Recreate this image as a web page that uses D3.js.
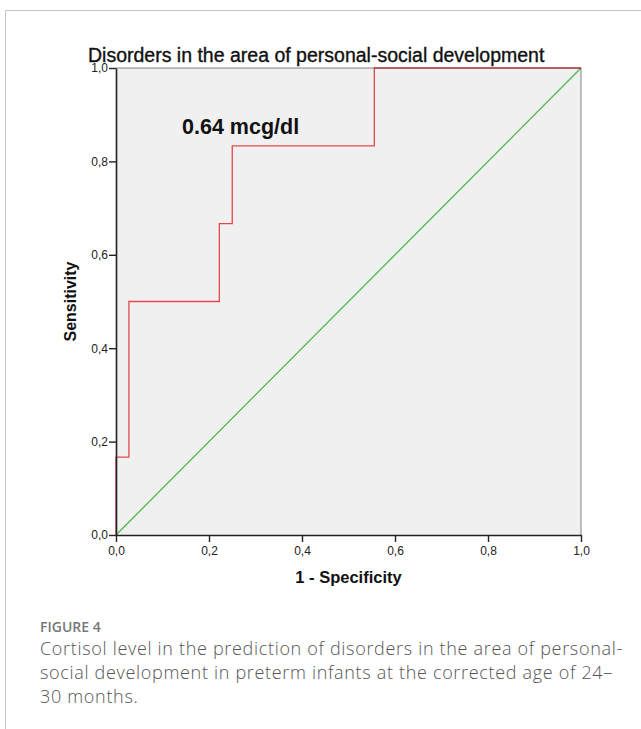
<!DOCTYPE html>
<html>
<head>
<meta charset="utf-8">
<script src="https://cdn.jsdelivr.net/npm/d3@7"></script>
<style>
  html, body { margin: 0; padding: 0; background: #fff; }
  svg { display: block; }
</style>
</head>
<body>
<svg id="fig" width="641" height="729"></svg>
<script>
// ROC curve points (1 - specificity, sensitivity)
const fpr = [0, 0, 1/36, 1/36, 8/36, 8/36, 9/36, 9/36, 20/36, 20/36, 1];
const tpr = [0, 1/6, 1/6, 3/6, 3/6, 4/6, 4/6, 5/6, 5/6, 1, 1];
// reference (chance) line
const refX = [0, 1];
const refY = [0, 1];
const tickValues = [0, 0.2, 0.4, 0.6, 0.8, 1.0];
const tickLabels = ["0,0", "0,2", "0,4", "0,6", "0,8", "1,0"];
const chartTitle = "Disorders in the area of personal-social development";
const cutoffLabel = "0.64 mcg/dl";
const figureLabel = "FIGURE 4";
const captionLines = [
  "Cortisol level in the prediction of disorders in the area of personal-",
  "social development in preterm infants at the corrected age of 24\u2013",
  "30 months."
];

const svg = d3.select("#fig");

// outer frame
svg.append("path")
  .attr("d", "M5.5,740 L5.5,10.5 L650,10.5")
  .attr("fill", "none")
  .attr("stroke", "#c4c4c4")
  .attr("stroke-width", 1);

const m = { left: 116, top: 68, right: 581, bottom: 535 };
const x = d3.scaleLinear().domain([0, 1]).range([m.left, m.right]);
const y = d3.scaleLinear().domain([0, 1]).range([m.bottom, m.top]);

// plot background
svg.append("rect")
  .attr("x", x(0)).attr("y", y(1))
  .attr("width", x(1) - x(0)).attr("height", y(0) - y(1))
  .attr("fill", "#f0f0f0");

// chance line
svg.append("path")
  .datum(refX.map((d, i) => [d, refY[i]]))
  .attr("d", d3.line().x(d => x(d[0])).y(d => y(d[1])))
  .attr("fill", "none")
  .attr("stroke", "#4cb84c")
  .attr("stroke-width", 1.3);

// ROC step curve
svg.append("path")
  .datum(fpr.map((d, i) => [d, tpr[i]]))
  .attr("d", d3.line().x(d => x(d[0])).y(d => y(d[1])))
  .attr("fill", "none")
  .attr("stroke", "#e5474b")
  .attr("stroke-width", 1.3);

// frame box lines (top/right)
svg.append("path")
  .attr("d", `M${x(0)},${y(1)} H${x(1)} V${y(0)}`)
  .attr("fill", "none")
  .attr("stroke", "#333")
  .attr("stroke-width", 1)
  .attr("stroke-opacity", 0.6);

const fmt = d => tickLabels[tickValues.indexOf(d)];

const xAxis = svg.append("g")
  .attr("transform", `translate(0,${y(0)})`)
  .call(d3.axisBottom(x).tickValues(tickValues).tickFormat(fmt).tickSize(7).tickSizeOuter(0));
const yAxis = svg.append("g")
  .attr("transform", `translate(${x(0)},0)`)
  .call(d3.axisLeft(y).tickValues(tickValues).tickFormat(fmt).tickSize(7).tickSizeOuter(0));

[xAxis, yAxis].forEach(g => {
  g.select(".domain").attr("stroke", "#222").attr("stroke-width", 1.6);
  g.selectAll(".tick line").attr("stroke", "#222").attr("stroke-width", 1.4);
  g.selectAll(".tick text")
    .attr("fill", "#222")
    .style("font-family", "Liberation Sans, Arial, sans-serif")
    .style("font-size", "12px");
});
xAxis.selectAll(".tick text").attr("dy", "0.71em").attr("y", 11);
yAxis.selectAll(".tick text").attr("x", -8);

// title
svg.append("text")
  .attr("x", 88).attr("y", 62)
  .style("font-family", "Liberation Sans, Arial, sans-serif")
  .style("font-size", "19.5px")
  .attr("fill", "#111")
  .attr("stroke", "#111")
  .attr("stroke-width", 0.35)
  .text(chartTitle);

// cutoff annotation
svg.append("text")
  .attr("x", 182).attr("y", 134)
  .style("font-family", "Liberation Sans, Arial, sans-serif")
  .style("font-size", "21.5px")
  .style("font-weight", "bold")
  .attr("fill", "#111")
  .text(cutoffLabel);

// axis titles
svg.append("text")
  .attr("x", (x(0) + x(1)) / 2).attr("y", 583)
  .attr("text-anchor", "middle")
  .style("font-family", "Liberation Sans, Arial, sans-serif")
  .style("font-size", "16.5px")
  .style("font-weight", "bold")
  .attr("fill", "#111")
  .text("1 - Specificity");

svg.append("text")
  .attr("transform", `translate(76,${(y(0) + y(1)) / 2}) rotate(-90)`)
  .attr("text-anchor", "middle")
  .style("font-family", "Liberation Sans, Arial, sans-serif")
  .style("font-size", "16px")
  .style("font-weight", "bold")
  .attr("fill", "#111")
  .text("Sensitivity");

// caption
svg.append("text")
  .attr("x", 40).attr("y", 632)
  .style("font-family", "Open Sans, sans-serif")
  .style("font-size", "14px")
  .style("font-weight", 600)
  .attr("fill", "#777")
  .text(figureLabel);

svg.selectAll("text.cap")
  .data(captionLines)
  .enter().append("text")
  .attr("class", "cap")
  .attr("x", 40)
  .attr("y", (d, i) => 655 + i * 24)
  .style("font-family", "Open Sans, sans-serif")
  .style("font-size", "18px")
  .style("font-weight", 300)
  .style("letter-spacing", "0.68px")
  .attr("fill", "#555")
  .text(d => d);
</script>
</body>
</html>
